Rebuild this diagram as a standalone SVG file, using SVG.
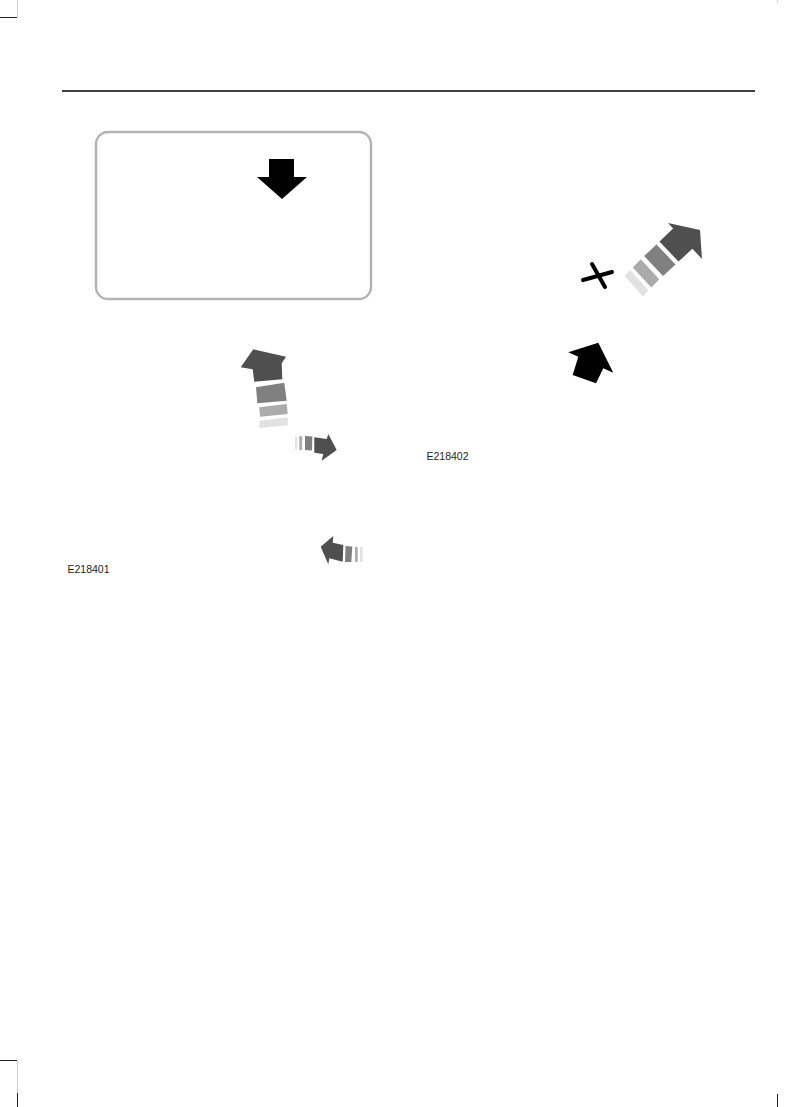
<svg xmlns="http://www.w3.org/2000/svg" width="795" height="1107" viewBox="0 0 795 1107">
<style>
.dk{fill:#4f4f4f}.md{fill:#808080}.lt{fill:#ababab}.xl{fill:#e2e2e2}.bk{fill:#000}
.lbl{font-family:"Liberation Sans",Arial,sans-serif;font-size:10.5px;fill:#231f20}
.crop{stroke:#231f20;stroke-width:1;fill:none}.cropl{stroke:#cfcfcf;stroke-width:1;fill:none}
</style>
<rect width="795" height="1107" fill="#fff"/>
<g id="page-marks">
<line class="crop" x1="0" y1="17.5" x2="17" y2="17.5"/>
<line class="cropl" x1="17.5" y1="0" x2="17.5" y2="17"/>
<line class="cropl" x1="777.5" y1="0" x2="777.5" y2="3"/>
<line class="crop" x1="0" y1="1060.5" x2="17" y2="1060.5"/>
<line class="cropl" x1="17.5" y1="1061" x2="17.5" y2="1093"/>
<line class="crop" x1="17.5" y1="1093" x2="17.5" y2="1107"/>
<line class="crop" x1="777.5" y1="1094" x2="777.5" y2="1107"/>
<line x1="62" y1="91" x2="755" y2="91" stroke="#000" stroke-width="1.3"/>
</g>
<g id="screen-box">
<rect x="96" y="132" width="275" height="167" rx="12" fill="none" stroke="#b3b3b3" stroke-width="2.4"/>
<polygon class="bk" points="269,159 294,159 294,177 307,177 282,199 257,177 269,177"/>
</g>
<g id="arrow-up-curved">
<polygon class="dk" points="240.7,367.3 253.3,349.3 286,356.7 281.7,363.3 282.3,379.3 254.3,381.7 252.7,369.3"/>
<polygon class="md" points="256,387.3 284.3,382.7 286.7,400.7 257.3,403.3"/>
<polygon class="lt" points="259.3,407.3 286.7,404 287.7,414 260,416.7"/>
<polygon class="xl" points="259.3,420.7 287.7,417.3 287.7,425.3 259.3,428"/>
</g>
<g id="arrow-right-small">
<polygon class="xl" points="295,436.5 297.3,436.5 297.3,449.5 295,449.5"/>
<polygon class="lt" points="299.3,436 302.3,436.3 302,450 299.3,450"/>
<polygon class="md" points="305,436 312.3,436.5 312,450.5 305,450"/>
<polygon class="dk" points="314.3,437.3 326.7,439 328.3,434 336.7,450 321.7,460.7 323.3,454 314.3,452.7"/>
</g>
<g id="arrow-left-small">
<polygon class="dk" points="320.7,546.7 333.3,536 332.7,542.7 343.3,545 342.7,561.7 329.3,558.3 328.3,564.3"/>
<polygon class="md" points="345.5,546 352.3,546.5 351.3,562 345,562"/>
<polygon class="lt" points="355,547 357.7,547 357.7,562 355,562"/>
<polygon class="xl" points="360,547 362.7,547 362.7,562 360,562"/>
</g>
<g id="cross-mark">
<line x1="583" y1="280" x2="612" y2="272" stroke="#000" stroke-width="4" stroke-linecap="round"/>
<line x1="592" y1="264" x2="605" y2="287" stroke="#000" stroke-width="4" stroke-linecap="round"/>
</g>
<g id="arrow-diagonal">
<polygon class="dk" points="659.5,241.6 673.1,228.4 668,223 700,230 702,259 692.4,248.8 678.5,261.6"/>
<polygon class="md" points="656.5,244.4 675.5,264.4 663.1,276.1 644.1,256.1"/>
<polygon class="lt" points="640.8,259.3 659.3,279.3 651.3,287.4 632.8,267.4"/>
<polygon class="xl" points="629.9,270.1 648.4,290.6 643.1,296.6 624.6,276.1"/>
</g>
<g id="arrow-up-black">
<polygon class="bk" points="568.3,352.3 598.3,342.7 613.3,372.7 603.3,368.3 596,383.3 572.7,375 578.3,356.7"/>
</g>
<g id="labels">
<text class="lbl" x="67.5" y="573">E218401</text>
<text class="lbl" x="426.5" y="460">E218402</text>
</g>
</svg>
